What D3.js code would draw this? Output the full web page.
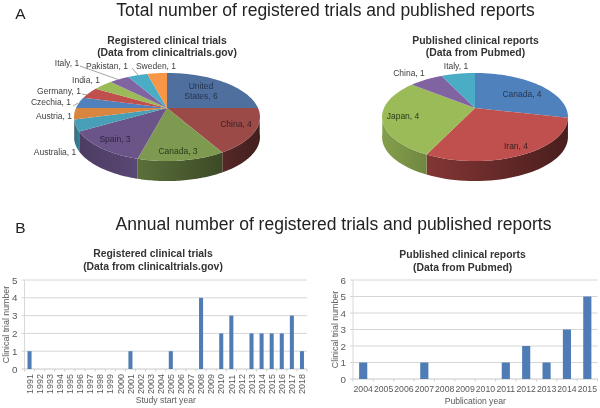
<!DOCTYPE html>
<html><head><meta charset="utf-8">
<script src="https://cdnjs.cloudflare.com/ajax/libs/d3/7.8.5/d3.min.js"></script>
<style>html,body{margin:0;padding:0;background:#fff}svg{display:block;filter:blur(.4px)}text{font-family:"Liberation Sans",Arial,sans-serif}</style>
</head><body><svg id="c" width="600" height="408"></svg>
<script>
const trialCountries=["United States","China","Canada","Spain","Australia","Austria","Czechia","Germany","India","Italy","Pakistan","Sweden"];
const trialCounts=[6,4,3,3,1,1,1,1,1,1,1,1];
const trialColors=["#4f6f9f","#9c4a48","#7e9a50","#6a5488","#47a0b8","#d98540","#4f81bd","#c0504d","#9bbb59","#8064a2","#4bacc6","#f79646"];
const reportCountries=["Canada","Iran","Japan","China","Italy"];
const reportCounts=[4,4,4,1,1];
const reportColors=["#4f81bd","#c0504d","#9bbb59","#8064a2","#4bacc6"];
const trialYears=["1991","1992","1993","1994","1995","1996","1997","1998","1999","2000","2001","2002","2003","2004","2005","2006","2007","2008","2009","2010","2011","2012","2013","2014","2015","2016","2017","2018"];
const trialYearCounts=[1,0,0,0,0,0,0,0,0,0,1,0,0,0,1,0,0,4,0,2,3,0,2,2,2,2,3,1];
const reportYears=["2004","2005","2006","2007","2008","2009","2010","2011","2012","2013","2014","2015"];
const reportYearCounts=[1,0,0,1,0,0,0,1,2,1,3,5];

const svg=d3.select("#c"), defs=svg.append("defs");
const txt=(x,y,s,o={})=>svg.append("text").attr("x",x).attr("y",y).attr("text-anchor",o.a||"middle")
  .attr("font-size",o.fs||9).attr("font-weight",o.w||400).attr("fill",o.c||"#404040").text(s);

txt(325.5,16,"Total number of registered trials and published reports",{fs:17.5,c:"#222"});
txt(333.5,229.5,"Annual number of registered trials and published reports",{fs:17.5,c:"#222"});
txt(20.5,18.5,"A",{fs:15.5,c:"#222"});
txt(20.5,233,"B",{fs:15.5,c:"#222"});

function pie3d(opt){
  const {apex,b,a,k,depth,values,colors,id,shades}=opt;
  const arcs=d3.pie().sort(null)(values);
  const project=t=>{const u=Math.sin(t),v=-Math.cos(t),d=1-k*v;return [apex[0]+b*u/d,apex[1]+a*v/d];};
  const samples=(s,e)=>d3.range(0,41).map(i=>project(s+(e-s)*i/40));
  const line=d3.line();
  const g=svg.append("g");
  arcs.forEach((d,i)=>{
    const pts=samples(d.startAngle,d.endAngle);
    const front=pts.filter(p=>p[1]>=apex[1]+opt.wallFrom);
    if(front.length<2) return;
    const x0=d3.min(front,p=>p[0]),x1=d3.max(front,p=>p[0]);
    const base=d3.color(colors[i]);
    const gid=id+"w"+i;
    const lg=defs.append("linearGradient").attr("id",gid).attr("gradientUnits","userSpaceOnUse")
      .attr("x1",x0).attr("x2",x1).attr("y1",0).attr("y2",0);
    const st=shades[i]||[.7,.5];
    st.forEach((s,j)=>lg.append("stop").attr("offset",j/(st.length-1)).attr("stop-color",d3.rgb(base.r*s,base.g*s,base.b*s)));
    const poly=front.concat(front.slice().reverse().map(p=>[p[0],p[1]+depth]));
    g.append("path").attr("d",line(poly)+"Z").attr("fill",`url(#${gid})`);
  });
  arcs.forEach((d,i)=>{
    g.append("path").attr("d",line([apex].concat(samples(d.startAngle,d.endAngle)))+"Z").attr("fill",colors[i]);
  });
}
pie3d({id:"p1",apex:[167,108],b:91,a:42.2,k:.2045,depth:20,values:trialCounts,colors:trialColors,wallFrom:5,
  shades:{1:[.55,.42],2:[.72,.48],3:[.72,.85],4:[.7,.8],5:[.7,.8]}});
pie3d({id:"p2",apex:[475,108],b:91,a:42.2,k:.2045,depth:20,values:reportCounts,colors:reportColors,wallFrom:5,
  shades:{0:[.7,.5],1:[.68,.38],2:[.85,.72]}});

const sub={w:700,fs:10.4,c:"#333"};
txt(167,43.5,"Registered clinical trials",sub);
txt(167,56,"(Data from clinicaltrials.gov)",sub);
txt(475.5,43.5,"Published clinical reports",sub);
txt(475.5,56,"(Data from Pubmed)",sub);

const lab=(name,val,x,y,c)=>txt(x,y,name+", "+val,{fs:8.5,c:c||"#404040"});
const tc=i=>trialCounts[i],tn=i=>trialCountries[i];
txt(201,89,"United",{fs:8.5,c:"#26364f"});
txt(201,99,"States, "+tc(0),{fs:8.5,c:"#26364f"});
lab(tn(1),tc(1),236,127,"#3a2020");
lab(tn(2),tc(2),178,154,"#2c3a1c");
lab(tn(3),tc(3),115,142,"#2e2440");
lab(tn(4),tc(4),55,155);
lab(tn(5),tc(5),54,118.5);
lab(tn(6),tc(6),51,105);
lab(tn(7),tc(7),59,94);
lab(tn(8),tc(8),86,82.5);
lab(tn(9),tc(9),67,66);
lab(tn(10),tc(10),107,68.5);
lab(tn(11),tc(11),156,68.5);
lab(reportCountries[0],reportCounts[0],522,97,"#26364f");
lab(reportCountries[1],reportCounts[1],516,148.5,"#3a2020");
lab(reportCountries[2],reportCounts[2],403,119,"#2c3a1c");
lab(reportCountries[3],reportCounts[3],409,76);
lab(reportCountries[4],reportCounts[4],456,69);
const leader=[[[80,66],[118,79.5]],[[132,68],[138,75]],[[73,106],[78,103]],[[82,94],[87,95]]];
leader.forEach(l=>svg.append("path").attr("d",d3.line()(l)).attr("stroke","#666").attr("stroke-width",.6).attr("fill","none"));

function bars(o){
  const x=d3.scaleBand().domain(o.cats).range([o.l,o.r]).paddingInner(o.pad).paddingOuter(o.pad/2);
  const y=d3.scaleLinear().domain([0,o.max]).range([o.b,o.t]);
  const g=svg.append("g");
  const axisC="#cfcfcf";
  g.append("line").attr("x1",o.l).attr("x2",o.l).attr("y1",o.t).attr("y2",o.b).attr("stroke",axisC).attr("stroke-width",.8);
  y.ticks(o.max).forEach(t=>{
    g.append("line").attr("x1",o.l-3).attr("x2",o.r).attr("y1",y(t)).attr("y2",y(t)).attr("stroke",t?"#d6d6d6":"#c8c8c8").attr("stroke-width",1);
    txt(o.l-7,y(t)+3.5,t,{a:"end",fs:9.8,c:"#595959"});
  });
  const step=x.step();
  o.cats.forEach((c,i)=>{
    const px=o.l+step*i;
    g.append("line").attr("x1",px).attr("x2",px).attr("y1",o.b).attr("y2",o.b+2.5).attr("stroke",axisC);
  });
  g.append("line").attr("x1",o.r).attr("x2",o.r).attr("y1",o.b).attr("y2",o.b+2.5).attr("stroke",axisC);
  g.selectAll("rect").data(o.vals).join("rect").attr("x",(d,i)=>x(o.cats[i])).attr("y",d=>y(d))
    .attr("width",x.bandwidth()).attr("height",d=>o.b-y(d)).attr("fill","#4f7cb5");
  o.cats.forEach(c=>{
    const cx=x(c)+x.bandwidth()/2;
    if(o.rot) svg.append("text").attr("transform",`translate(${cx+3.2},${o.b+25}) rotate(-90)`).attr("font-size",9).attr("fill","#595959").text(c);
    else txt(cx,o.b+13,c,{fs:8.7,c:"#595959"});
  });
  svg.append("text").attr("transform",`translate(${o.yl},${(o.b+o.t)/2+(o.ylOff||0)}) rotate(-90)`).attr("text-anchor","middle").attr("font-size",8.8).attr("fill","#595959").text("Clinical trial number");
  txt((o.l+o.r)/2+o.xlOff,o.xy,o.xl,{fs:8.6,c:"#595959"});
}
txt(153,257,"Registered clinical trials",sub);
txt(153,269.5,"(Data from clinicaltrials.gov)",sub);
txt(462.6,258,"Published clinical reports",sub);
txt(462.6,270.5,"(Data from Pubmed)",sub);
bars({cats:trialYears,vals:trialYearCounts,l:24.5,r:307,t:280,b:369,max:5,pad:.6,rot:true,yl:8.5,xl:"Study start year",xy:403,xlOff:0});
bars({cats:reportYears,vals:reportYearCounts,l:353,r:597.5,t:280,b:379,max:6,pad:.6,rot:false,yl:338,xl:"Publication year",xy:404,xlOff:0});
</script></body></html>
